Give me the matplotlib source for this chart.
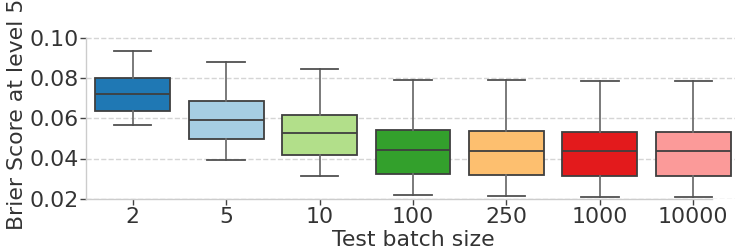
import matplotlib
matplotlib.use("Agg")
import matplotlib.pyplot as plt

# Test batch sizes and box statistics
batch_sizes = ["2", "5", "10", "100", "250", "1000", "10000"]
whisker_low = [0.0565, 0.0395, 0.0312, 0.0220, 0.0213, 0.0210, 0.0208]
q1 = [0.0637, 0.0497, 0.0416, 0.0325, 0.0318, 0.0315, 0.0315]
medians = [0.0720, 0.0591, 0.0526, 0.0445, 0.0440, 0.0440, 0.0440]
q3 = [0.0800, 0.0685, 0.0617, 0.0543, 0.0535, 0.0533, 0.0533]
whisker_high = [0.0935, 0.0882, 0.0847, 0.0790, 0.0790, 0.0785, 0.0785]
colors = ["#1f78b4", "#a6cee3", "#b2df8a", "#33a02c", "#fdbf6f", "#e31a1c", "#fb9a99"]
yticks = [0.02, 0.04, 0.06, 0.08, 0.10]

stats = []
for i, name in enumerate(batch_sizes):
    stats.append({
        "label": name,
        "whislo": whisker_low[i],
        "q1": q1[i],
        "med": medians[i],
        "q3": q3[i],
        "whishi": whisker_high[i],
        "fliers": [],
    })

fig = plt.figure(figsize=(7.35, 2.49), dpi=100)
ax = fig.add_axes([86 / 735, 50.5 / 249, 654 / 735, 168 / 249])

bp = ax.bxp(stats, positions=range(len(batch_sizes)), widths=0.8,
            patch_artist=True, showfliers=False,
            boxprops=dict(edgecolor="#3f3f3f", linewidth=1.3),
            medianprops=dict(color="#3f3f3f", linewidth=1.3),
            whiskerprops=dict(color="#707070", linewidth=1.3),
            capprops=dict(color="#505050", linewidth=1.3))
for patch, c in zip(bp["boxes"], colors):
    patch.set_facecolor(c)

ax.set_xlim(-0.5, len(batch_sizes) - 0.5)
ax.set_ylim(0.02, 0.104)
ax.set_yticks(yticks)
ax.set_yticklabels(["%.2f" % t for t in yticks])
ax.yaxis.grid(True, linestyle="--", color="#d5d5d5", linewidth=1)
ax.set_axisbelow(True)

# trimmed spines, like seaborn's despine(trim=True)
for side in ["top", "right"]:
    ax.spines[side].set_visible(False)
for side in ["left", "bottom"]:
    ax.spines[side].set_color("#cccccc")
    ax.spines[side].set_linewidth(1)
ax.spines["left"].set_bounds(yticks[0], yticks[-1])
ax.spines["bottom"].set_bounds(-0.5, 6.2)

ax.tick_params(axis="both", labelsize=15.8, labelcolor="#333333",
               color="#444444", length=4, width=1, pad=2)
ax.tick_params(axis="y", pad=1)
ax.set_xlabel("Test batch size", fontsize=15.8, color="#333333", labelpad=2.5)
ax.set_ylabel("Brier Score at level 5", fontsize=15.8, color="#333333", labelpad=2)

fig.savefig("out.png", dpi=100)
